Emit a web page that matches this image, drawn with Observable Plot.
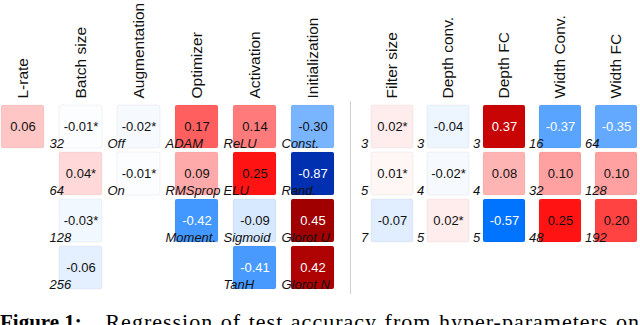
<!DOCTYPE html>
<html>
<head>
<meta charset="utf-8">
<script src="https://cdn.jsdelivr.net/npm/d3@7"></script>
<script src="https://cdn.jsdelivr.net/npm/@observablehq/plot@0.6"></script>
<style>
  html, body { margin: 0; padding: 0; background: #fff; }
  #wrap { width: 640px; height: 325px; overflow: hidden; position: relative; }
  #charts { display: flex; width: 640px; height: 300px; }
  #left { width: 345px; height: 300px; }
  #right { width: 295px; height: 300px; position: relative; }
  #sep { position: absolute; left: 5px; top: 101px; width: 1px; height: 193px; background: #cfcfcf; }
  #caption {
    margin-top: 11px; font-family: "Liberation Serif", "Times New Roman", serif;
    font-size: 22px; line-height: 22px; letter-spacing: 1px;
    text-align: justify; text-align-last: justify;
    white-space: nowrap; width: 640px; color: #000;
  }
  #caption .fig { display: inline-block; font-weight: bold; font-size: 21px; letter-spacing: 0; margin-right: 16px; }
</style>
</head>
<body>
<div id="wrap">
  <div id="charts">
    <div id="left"></div>
    <div id="right"><div id="sep"></div></div>
  </div>
  <div id="caption"><span class="fig">Figure 1:</span> Regression of test accuracy from hyper-parameters on</div>
</div>
<script>
// ---- data ----
const leftColumns = ["L-rate", "Batch size", "Augmentation", "Optimizer", "Activation", "Initialization"];
const rightColumns = ["Filter size", "Depth conv.", "Depth FC", "Width Conv.", "Width FC"];

const lrateLabels = [""];
const lrateValues = [0.06];
const lrateStars = [""];

const batchLabels = ["32", "64", "128", "256"];
const batchValues = [-0.01, 0.04, -0.03, -0.06];
const batchStars = ["*", "*", "*", ""];

const augLabels = ["Off", "On"];
const augValues = [-0.02, -0.01];
const augStars = ["*", "*"];

const optLabels = ["ADAM", "RMSprop", "Moment."];
const optValues = [0.17, 0.09, -0.42];
const optStars = ["", "", ""];

const actLabels = ["ReLU", "ELU", "Sigmoid", "TanH"];
const actValues = [0.14, 0.25, -0.09, -0.41];
const actStars = ["", "", "", ""];

const initLabels = ["Const.", "Rand.", "Glorot U", "Glorot N"];
const initValues = [-0.30, -0.87, 0.45, 0.42];
const initStars = ["", "", "", ""];

const filterLabels = ["3", "5", "7"];
const filterValues = [0.02, 0.01, -0.07];
const filterStars = ["*", "*", ""];

const depthConvLabels = ["3", "4", "5"];
const depthConvValues = [-0.04, -0.02, 0.02];
const depthConvStars = ["", "*", "*"];

const depthFCLabels = ["3", "4", "5"];
const depthFCValues = [0.37, 0.08, -0.57];
const depthFCStars = ["", "", ""];

const widthConvLabels = ["16", "32", "48"];
const widthConvValues = [-0.37, 0.10, 0.25];
const widthConvStars = ["", "", ""];

const widthFCLabels = ["64", "128", "192"];
const widthFCValues = [-0.35, 0.10, 0.20];
const widthFCStars = ["", "", ""];

// ---- build tables ----
function rowsFor(col, labels, values, stars) {
  return values.map((v, i) => ({col, row: i, label: labels[i], value: v, star: stars[i]}));
}
const leftTable = [
  ...rowsFor("L-rate", lrateLabels, lrateValues, lrateStars),
  ...rowsFor("Batch size", batchLabels, batchValues, batchStars),
  ...rowsFor("Augmentation", augLabels, augValues, augStars),
  ...rowsFor("Optimizer", optLabels, optValues, optStars),
  ...rowsFor("Activation", actLabels, actValues, actStars),
  ...rowsFor("Initialization", initLabels, initValues, initStars)
];
const rightTable = [
  ...rowsFor("Filter size", filterLabels, filterValues, filterStars),
  ...rowsFor("Depth conv.", depthConvLabels, depthConvValues, depthConvStars),
  ...rowsFor("Depth FC", depthFCLabels, depthFCValues, depthFCStars),
  ...rowsFor("Width Conv.", widthConvLabels, widthConvValues, widthConvStars),
  ...rowsFor("Width FC", widthFCLabels, widthFCValues, widthFCStars)
];

const fmt = d => d.value.toFixed(2) + d.star;
const isDark = d => Math.abs(d.value) > 0.32;

function makePlot(cols, table, {width, marginLeft, marginRight, paddingInner}) {
  const bw = 43;
  return Plot.plot({
    width, height: 300,
    marginTop: 105, marginBottom: 10, marginLeft, marginRight,
    style: {fontFamily: "'Liberation Sans', Arial, Helvetica, sans-serif", fontSize: "13px", overflow: "visible", background: "transparent"},
    x: {type: "band", domain: cols, paddingInner, paddingOuter: 0, axis: null},
    y: {type: "band", domain: [0, 1, 2, 3], paddingInner: 0.085, paddingOuter: 0, axis: null},
    color: {
      type: "linear",
      domain: [-0.87, -0.57, 0, 0.26, 0.45],
      range: ["#0030b0", "#0073ff", "#ffffff", "#ff0a0a", "#a00000"],
      interpolate: "rgb"
    },
    marks: [
      Plot.cell(table, {x: "col", y: "row", fill: "value", rx: 2, inset: 0, stroke: "#000", strokeOpacity: 0.05}),
      Plot.text(table.filter(isDark), {x: "col", y: "row", text: fmt, fill: "white", fontSize: 13}),
      Plot.text(table.filter(d => !isDark(d)), {x: "col", y: "row", text: fmt, fill: "#111", fontSize: 13}),
      Plot.text(table, {x: "col", y: "row", text: "label", dx: -(bw / 2) - 10, dy: bw / 2 - 1,
        textAnchor: "start", lineAnchor: "bottom", fontStyle: "italic", fontSize: 13, fill: "#111"}),
      Plot.text(cols, {x: d => d, frameAnchor: "top", rotate: -90, textAnchor: "start", lineAnchor: "middle",
        dy: -7, fontSize: 15.5, fill: "#111"})
    ]
  });
}

document.getElementById("left").appendChild(
  makePlot(leftColumns, leftTable, {width: 345, marginLeft: 0, marginRight: 11, paddingInner: 0.26})
);
document.getElementById("right").appendChild(
  makePlot(rightColumns, rightTable, {width: 295, marginLeft: 24, marginRight: 0, paddingInner: 0.245})
);
</script>
</body>
</html>
